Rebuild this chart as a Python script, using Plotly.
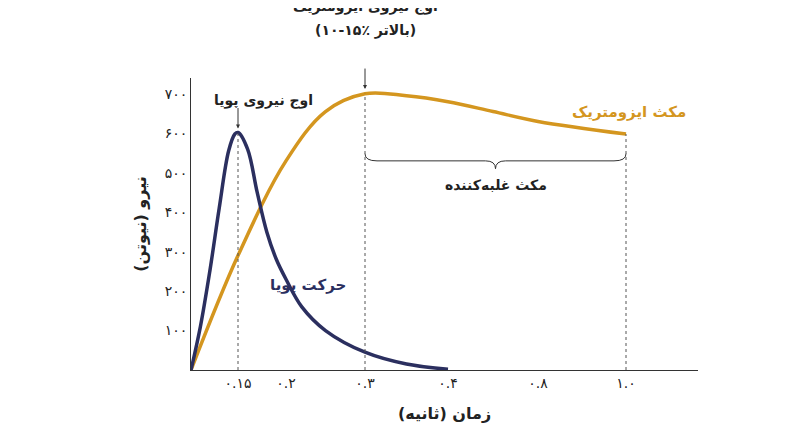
import numpy as np
import plotly.graph_objects as go

# non-linear time axis: tick times and where they sit on the drawing axis
tick_times = [0, 0.15, 0.2, 0.3, 0.4, 0.8, 1.0]
tick_pos = [183, 230, 278, 357, 440, 530, 618]
tick_text = ["", "۰.۱۵", "۰.۲", "۰.۳", "۰.۴", "۰.۸", "۱.۰"]

y_ticks = [100, 200, 300, 400, 500, 600, 700]
y_text = ["۱۰۰", "۲۰۰", "۳۰۰", "۴۰۰", "۵۰۰", "۶۰۰", "۷۰۰"]

dyn_t = [0, 0.03, 0.06, 0.09, 0.12, 0.14, 0.15, 0.16, 0.17, 0.18, 0.19, 0.2, 0.22, 0.25, 0.3, 0.35, 0.4]
dyn_f = [0, 110, 250, 410, 555, 598, 602, 560, 450, 350, 280, 230, 160, 100, 45, 15, 2]

iso_t = [0, 0.15, 0.2, 0.25, 0.3, 0.35, 0.4, 0.6, 0.8, 1.0]
iso_f = [0, 290, 530, 655, 700, 695, 680, 655, 630, 598]

NAVY = "#2b2f5f"
GOLD = "#d4961f"
FONT = "DejaVu Sans"


def pos(t):
    return np.interp(t, tick_times, tick_pos)


fig = go.Figure()
fig.add_trace(go.Scatter(x=pos(iso_t), y=iso_f, mode="lines", line=dict(color=GOLD, width=3.5, shape="spline")))
fig.add_trace(go.Scatter(x=pos(dyn_t), y=dyn_f, mode="lines", line=dict(color=NAVY, width=3.5, shape="spline")))

for t, top in [(0.15, 600), (0.3, 700), (1.0, 598)]:
    fig.add_shape(type="line", x0=pos(t), x1=pos(t), y0=0, y1=top,
                  line=dict(color="#555", width=1, dash="dot"))

# brace under the isometric hold
x0, x1 = pos(0.3), pos(1.0)
xm = (x0 + x1) / 2
fig.add_shape(type="path", line=dict(color="#333", width=1),
              path=f"M {x0},548 Q {x0},530 {x0+12},530 L {xm-10},530 Q {xm},530 {xm},510 "
                   f"Q {xm},530 {xm+10},530 L {x1-12},530 Q {x1},530 {x1},548")

txt = dict(family=FONT, size=14, color="#222")
fig.add_annotation(x=pos(0.15), y=612, ax=0, ay=-22, text="", showarrow=True, arrowhead=2,
                   arrowsize=0.8, arrowwidth=1, arrowcolor="#333")
fig.add_annotation(x=pos(0.15) + 25, y=683, text="<b>اوج نیروی پویا</b>", showarrow=False, font=txt)
fig.add_annotation(x=pos(0.3), y=712, ax=0, ay=-22, text="", showarrow=True, arrowhead=2,
                   arrowsize=0.8, arrowwidth=1, arrowcolor="#333")
fig.add_annotation(x=pos(0.3), y=700, yshift=87, text="<b>اوج نیروی ایزومتریک</b>", showarrow=False, font=txt)
fig.add_annotation(x=pos(0.3), y=700, yshift=63, text="<b>(۱۰-۱۵٪ بالاتر)</b>", showarrow=False, font=txt)
fig.add_annotation(x=xm, y=470, text="<b>مکث غلبه‌کننده</b>", showarrow=False, font=txt)
fig.add_annotation(x=680, y=655, text="<b>مکث ایزومتریک</b>", showarrow=False, xanchor="right",
                   font=dict(family=FONT, size=15, color=GOLD))
fig.add_annotation(x=300, y=215, text="<b>حرکت پویا</b>", showarrow=False,
                   font=dict(family=FONT, size=15, color=NAVY))

fig.update_layout(
    width=800, height=447, showlegend=False,
    plot_bgcolor="white", paper_bgcolor="white",
    margin=dict(l=183, r=110, t=70, b=85),
    font=dict(family=FONT, size=14, color="#222"),
    xaxis=dict(range=[183, 690], tickvals=tick_pos, ticktext=tick_text, showgrid=False, zeroline=False,
               showline=True, linecolor="#333", linewidth=1, ticks="", tickfont=dict(size=14),
               automargin=False,
               title=dict(text="<b>زمان (ثانیه)</b>", font=dict(size=16), standoff=18)),
    yaxis=dict(range=[0, 740], tickvals=y_ticks, ticktext=y_text, showgrid=False, zeroline=False,
               showline=True, linecolor="#333", linewidth=1, ticks="", tickfont=dict(size=14),
               automargin=False,
               title=dict(text="<b>نیرو (نیوتن)</b>", font=dict(size=16), standoff=14)),
)

fig.write_html("out.html")
